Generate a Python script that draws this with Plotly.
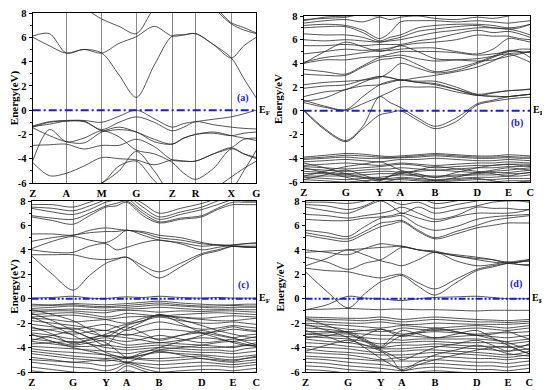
import plotly.graph_objects as go

# ---------------- data ----------------
klabels_a = ["Z", "A", "M", "G", "Z", "R", "X", "G"]
kpos_a = [0, 102, 210, 315, 424, 495, 604, 680]
klabels_b = ["Z", "G", "Y", "A", "B", "D", "E", "C"]
kpos_b = [0, 128, 230, 293, 398, 526, 620, 686]
klabels_c = ["Z", "G", "Y", "A", "B", "D", "E", "C"]
kpos_c = [0, 126, 226, 289, 388, 518, 613, 684]
klabels_d = ["Z", "G", "Y", "A", "B", "D", "E", "C"]
kpos_d = [0, 130, 230, 294, 395, 523, 618, 683]

yticks = [-6, -4, -2, 0, 2, 4, 6, 8]

# band energies (eV) at each high-symmetry point and the midpoint between them
bands_a = [
    [6.0, 5.3, 4.7, 5.0, 4.7, 2.9, 1.05, 3.7, 6.1, 6.2, 6.3, 5.4, 4.3, 2.6, 1.0],
    [6.1, 6.3, 4.7, 5.0, 4.7, 5.5, 6.05, 6.9, 6.1, 6.2, 6.3, 5.4, 4.3, 5.3, 6.0],
    [9.0, 9.0, 9.0, 8.4, 7.5, 6.9, 6.3, 8.4, 9.5, 9.5, 9.5, 8.4, 7.1, 6.6, 6.3],
    [9.5, 9.5, 9.5, 9.5, 9.5, 9.5, 9.5, 9.5, 9.5, 9.5, 9.5, 8.6, 7.2, 6.8, 6.35],
    [-1.3, -0.95, -0.85, -0.85, -1.0, -0.5, 0.0, -0.7, -1.4, -1.1, -0.95, -0.75, -0.55, -0.3, 0.0],
    [-1.4, -1.0, -0.9, -0.95, -1.6, -1.0, -0.55, -1.0, -1.7, -1.4, -0.95, -1.2, -1.4, -1.5, -1.55],
    [-1.45, -2.1, -2.6, -2.7, -1.8, -1.4, -1.8, -2.4, -2.8, -2.3, -2.0, -1.9, -2.1, -1.9, -1.8],
    [-2.9, -2.85, -2.8, -3.2, -2.9, -2.9, -2.4, -3.0, -4.1, -4.2, -4.2, -3.6, -3.1, -2.4, -2.3],
    [-4.2, -1.6, -2.6, -2.3, -1.7, -2.2, -3.3, -3.6, -4.3, -5.2, -5.7, -4.8, -3.2, -3.6, -3.9],
    [-4.3, -5.4, -5.2, -4.6, -3.9, -4.0, -4.1, -4.5, -4.1, -4.2, -4.2, -3.6, -3.1, -3.6, -4.0],
    [-7.0, -6.5, -6.3, -6.2, -6.0, -4.6, -4.2, -5.8, -7.0, -7.0, -7.0, -6.5, -5.5, -4.8, -4.2],
    [-1.35, -1.15, -0.9, -0.9, -1.7, -1.6, -1.8, -2.6, -2.8, -2.3, -2.0, -1.8, -2.1, -2.3, -2.5],
    [-7.0, -7.0, -7.0, -6.5, -6.0, -5.0, -3.4, -5.0, -7.0, -7.0, -7.0, -7.0, -6.5, -5.0, -3.3],
]

bands_b = [
    [0.0, -1.6, -2.6, -1.5, -0.35, -0.15, 0.0, -0.8, -1.5, -0.9, 0.5, 0.8, 1.0, 1.1, 1.15],
    [0.1, -1.5, -2.5, -1.3, 1.2, 0.7, 0.3, -0.6, -1.3, -0.6, 0.6, 0.9, 1.2, 1.3, 1.4],
    [0.7, 0.3, 0.05, 0.6, 1.2, 1.6, 2.0, 2.0, 2.0, 1.6, 1.3, 1.25, 1.2, 1.3, 1.4],
    [0.9, 0.4, 0.1, 1.2, 2.2, 2.5, 2.6, 2.4, 2.3, 1.8, 1.3, 1.5, 1.7, 1.75, 1.8],
    [1.2, 1.6, 1.8, 2.4, 2.9, 2.8, 2.6, 2.5, 2.5, 2.0, 1.4, 1.55, 1.7, 1.75, 1.85],
    [0.8, 1.1, 1.8, 2.1, 2.2, 2.4, 2.6, 2.4, 2.2, 1.8, 1.35, 1.2, 1.2, 1.3, 1.4],
    [1.9, 2.1, 2.2, 2.6, 2.9, 2.8, 2.6, 2.8, 3.0, 3.3, 3.7, 4.2, 4.8, 4.9, 5.0],
    [2.2, 2.4, 2.5, 2.6, 2.8, 3.3, 4.0, 3.6, 3.2, 3.4, 4.0, 4.5, 5.0, 5.0, 4.9],
    [3.1, 3.0, 3.0, 3.7, 4.3, 4.4, 4.5, 3.9, 3.3, 3.6, 4.1, 4.6, 5.1, 5.0, 4.5],
    [3.5, 3.3, 3.1, 3.8, 4.5, 4.6, 4.7, 4.4, 4.2, 4.3, 4.4, 4.6, 4.8, 4.5, 4.1],
    [4.0, 4.3, 4.3, 4.5, 4.6, 4.8, 5.0, 5.0, 5.0, 4.9, 4.7, 4.8, 5.0, 5.2, 5.2],
    [4.1, 4.5, 4.7, 4.9, 5.1, 5.1, 5.2, 5.3, 5.3, 5.0, 4.8, 5.2, 6.1, 6.0, 5.8],
    [4.8, 5.0, 5.2, 5.1, 5.2, 5.3, 5.5, 5.7, 5.8, 6.0, 6.4, 6.3, 6.3, 6.1, 6.0],
    [4.0, 5.0, 5.8, 5.4, 5.0, 5.2, 5.5, 5.0, 4.4, 4.3, 4.2, 4.3, 4.6, 4.8, 5.0],
    [5.5, 5.5, 5.6, 5.5, 5.6, 5.6, 5.6, 5.9, 6.1, 6.5, 6.8, 6.6, 6.7, 6.5, 6.2],
    [6.0, 5.9, 6.0, 5.9, 5.8, 5.9, 6.0, 6.3, 6.6, 6.8, 7.0, 7.0, 6.9, 6.7, 6.4],
    [6.5, 6.4, 6.4, 6.2, 5.8, 6.0, 6.2, 6.7, 6.9, 7.1, 7.2, 7.0, 6.9, 7.0, 7.3],
    [7.0, 7.1, 7.1, 6.6, 5.9, 6.2, 6.4, 7.0, 7.2, 7.3, 7.3, 7.2, 7.0, 7.1, 7.3],
    [7.2, 7.3, 7.2, 6.8, 6.1, 6.6, 7.5, 7.6, 7.6, 7.5, 7.6, 7.5, 7.4, 7.5, 7.6],
    [7.4, 7.6, 7.7, 7.5, 7.9, 7.7, 7.9, 8.0, 7.8, 7.7, 7.9, 7.8, 8.0, 8.2, 8.3],
    [7.6, 7.9, 8.0, 8.1, 8.0, 8.2, 8.3, 8.4, 8.3, 8.2, 8.3, 8.4, 8.3, 8.4, 8.5],
    [7.7, 7.8, 7.9, 8.2, 8.4, 8.3, 8.2, 8.4, 8.5, 8.3, 8.1, 8.2, 8.4, 8.5, 8.6],
    [-3.9, -3.75, -3.6, -3.65, -3.8, -3.85, -3.8, -3.7, -3.6, -3.7, -3.8, -3.8, -3.7, -3.75, -3.8],
    [-4.0, -3.9, -3.75, -3.8, -3.9, -3.95, -3.9, -3.8, -3.7, -3.8, -3.9, -3.9, -3.85, -3.9, -3.9],
    [-4.1, -4.0, -3.9, -4.0, -4.0, -4.0, -3.95, -3.9, -3.8, -3.9, -4.0, -4.0, -3.95, -4.0, -4.0],
    [-4.3, -4.2, -4.1, -4.2, -4.3, -4.2, -4.1, -4.1, -4.0, -4.1, -4.2, -4.2, -4.1, -4.15, -4.2],
    [-4.6, -4.5, -4.4, -4.5, -4.6, -4.5, -4.4, -4.5, -4.6, -4.5, -4.4, -4.4, -4.3, -4.35, -4.4],
    [-4.7, -4.8, -4.9, -4.8, -4.7, -4.6, -4.5, -4.6, -4.8, -4.7, -4.6, -4.6, -4.5, -4.5, -4.5],
    [-4.9, -5.0, -5.1, -5.0, -4.9, -4.9, -4.8, -4.9, -5.0, -4.9, -4.8, -4.8, -4.7, -4.7, -4.6],
    [-5.1, -5.2, -5.3, -5.2, -5.1, -5.1, -5.2, -5.1, -5.0, -5.1, -5.2, -5.1, -5.0, -4.9, -4.8],
    [-5.3, -5.3, -5.4, -5.4, -5.3, -5.3, -5.3, -5.4, -5.5, -5.4, -5.3, -5.2, -5.2, -5.1, -5.0],
    [-5.5, -5.5, -5.5, -5.6, -5.6, -5.5, -5.4, -5.5, -5.6, -5.5, -5.4, -5.4, -5.3, -5.3, -5.2],
    [-5.6, -5.7, -5.8, -5.7, -5.7, -5.7, -5.6, -5.7, -5.8, -5.7, -5.6, -5.6, -5.5, -5.5, -5.4],
    [-5.8, -5.9, -6.0, -5.9, -5.8, -5.8, -5.8, -5.9, -6.0, -5.9, -5.8, -5.8, -5.7, -5.7, -5.7],
    [-6.0, -6.1, -6.2, -6.1, -6.0, -6.0, -6.0, -6.1, -6.2, -6.1, -6.0, -6.0, -5.9, -5.9, -5.9],
    [-6.2, -6.3, -6.4, -6.3, -6.2, -6.2, -6.2, -6.3, -6.4, -6.3, -6.2, -6.2, -6.1, -6.1, -6.1],
    [-4.4, -4.8, -5.3, -5.6, -5.9, -5.5, -5.1, -5.5, -5.9, -5.6, -5.2, -5.0, -4.8, -4.9, -5.0],
    [-5.5, -5.1, -4.7, -4.5, -4.3, -4.6, -5.0, -5.3, -5.6, -5.2, -4.8, -4.6, -4.5, -4.6, -4.7],
    [-5.8, -5.4, -5.0, -5.4, -5.8, -5.5, -5.3, -5.0, -4.7, -4.9, -5.1, -5.3, -5.5, -5.3, -5.2],
    [-4.8, -5.2, -5.6, -5.9, -6.1, -5.9, -5.7, -5.8, -5.9, -5.8, -5.7, -5.9, -6.1, -6.0, -5.9],
]

bands_c = [
    [3.5, 2.0, 0.7, 1.9, 2.9, 3.2, 3.4, 2.4, 1.7, 2.6, 3.6, 3.9, 4.3, 4.25, 4.2],
    [3.6, 3.6, 3.6, 3.3, 3.2, 3.3, 3.4, 2.7, 2.2, 2.9, 3.7, 4.0, 4.3, 4.25, 4.2],
    [4.0, 3.8, 3.8, 4.3, 4.5, 4.0, 4.2, 4.6, 4.8, 4.5, 4.0, 4.2, 4.4, 4.5, 4.5],
    [4.1, 4.7, 5.1, 4.8, 4.6, 5.0, 5.6, 5.2, 4.8, 4.6, 4.3, 4.4, 4.4, 4.5, 4.6],
    [4.7, 5.0, 5.2, 5.4, 5.5, 5.5, 5.6, 5.4, 5.0, 4.8, 4.5, 4.4, 4.3, 4.2, 4.2],
    [5.3, 5.3, 5.2, 5.6, 5.8, 5.7, 5.6, 5.5, 5.2, 5.0, 4.6, 4.4, 4.3, 4.3, 4.3],
    [6.7, 6.4, 6.1, 6.8, 7.5, 7.6, 7.9, 6.8, 6.2, 6.5, 6.7, 7.3, 7.7, 7.7, 7.7],
    [6.8, 6.6, 6.5, 7.0, 7.6, 7.8, 8.0, 7.0, 6.3, 6.6, 6.8, 7.4, 7.9, 7.9, 7.9],
    [7.4, 7.1, 6.9, 7.3, 7.9, 8.1, 8.2, 7.2, 6.5, 6.9, 7.3, 7.7, 8.1, 8.0, 8.0],
    [7.5, 7.4, 7.2, 7.6, 8.1, 8.3, 8.4, 7.5, 6.7, 7.1, 7.5, 8.0, 8.3, 8.2, 8.2],
    [7.7, 7.7, 7.5, 7.9, 8.3, 8.4, 8.5, 7.8, 7.0, 7.4, 7.8, 8.2, 8.5, 8.4, 8.4],
    [0.05, 0.1, 0.2, 0.05, 0.0, 0.1, 0.15, 0.1, 0.2, 0.1, 0.05, 0.1, 0.05, 0.05, 0.05],
    [-0.45, -0.5, -0.4, -0.45, -0.5, -0.45, -0.4, -0.3, -0.2, -0.35, -0.45, -0.5, -0.5, -0.45, -0.45],
    [-0.6, -0.55, -0.5, -0.6, -0.65, -0.6, -0.55, -0.45, -0.35, -0.5, -0.6, -0.6, -0.55, -0.6, -0.6],
    [-0.8, -0.7, -0.6, -0.7, -0.75, -0.7, -0.7, -0.6, -0.5, -0.6, -0.7, -0.75, -0.7, -0.7, -0.7],
    [-0.95, -0.9, -0.85, -0.9, -0.95, -0.9, -0.85, -0.8, -0.7, -0.8, -0.9, -0.9, -0.85, -0.9, -0.9],
    [-1.1, -1.0, -1.0, -1.1, -1.15, -1.0, -0.95, -1.0, -1.1, -1.0, -1.05, -1.0, -1.0, -1.05, -1.1],
    [-1.3, -1.2, -1.15, -1.3, -1.5, -1.4, -1.2, -1.3, -1.4, -1.3, -1.2, -1.15, -1.2, -1.25, -1.3],
    [-1.5, -1.4, -1.35, -1.5, -1.7, -1.9, -2.0, -1.6, -1.4, -1.5, -1.6, -1.5, -1.4, -1.45, -1.5],
    [-1.6, -1.7, -1.9, -1.8, -1.7, -1.6, -1.5, -1.45, -1.4, -1.55, -1.7, -1.8, -1.8, -1.7, -1.6],
    [-1.8, -2.0, -2.2, -2.4, -2.6, -2.3, -2.1, -1.8, -1.5, -1.8, -2.0, -2.0, -1.9, -2.0, -2.1],
    [-2.1, -2.3, -2.5, -2.3, -2.1, -2.3, -2.6, -2.2, -1.9, -2.2, -2.5, -2.4, -2.2, -2.3, -2.4],
    [-2.4, -2.6, -2.9, -2.7, -2.6, -2.8, -3.0, -2.7, -2.5, -2.6, -2.8, -2.7, -2.5, -2.6, -2.7],
    [-2.6, -2.5, -2.4, -2.8, -3.1, -3.0, -2.9, -3.1, -3.3, -3.0, -2.8, -3.0, -3.2, -3.0, -2.9],
    [-2.8, -3.0, -3.3, -3.2, -3.0, -3.1, -3.2, -3.4, -3.6, -3.4, -3.2, -3.3, -3.5, -3.3, -3.1],
    [-3.0, -3.2, -3.6, -3.4, -3.2, -3.4, -3.5, -3.3, -3.0, -3.3, -3.6, -3.5, -3.3, -3.4, -3.4],
    [-3.3, -3.5, -3.8, -3.6, -3.4, -3.6, -3.8, -3.7, -3.6, -3.7, -3.8, -3.9, -4.0, -3.8, -3.6],
    [-3.5, -3.7, -3.9, -3.9, -3.8, -3.9, -4.0, -3.9, -3.8, -3.9, -4.0, -4.0, -3.9, -3.85, -3.8],
    [-3.7, -3.6, -3.5, -3.7, -4.0, -4.1, -4.2, -4.1, -4.0, -4.1, -4.2, -4.2, -4.3, -4.1, -4.0],
    [-3.9, -4.0, -4.1, -4.2, -4.3, -4.4, -4.5, -4.3, -4.2, -4.3, -4.4, -4.4, -4.5, -4.4, -4.3],
    [-4.1, -4.3, -4.4, -4.5, -4.6, -4.7, -4.8, -4.6, -4.4, -4.5, -4.6, -4.7, -4.8, -4.7, -4.6],
    [-4.3, -4.5, -4.7, -4.8, -4.9, -4.85, -4.8, -4.9, -4.9, -4.8, -4.7, -4.9, -5.0, -4.9, -4.8],
    [-4.5, -4.7, -4.9, -5.0, -5.1, -5.0, -4.9, -5.0, -5.1, -5.0, -4.9, -5.1, -5.2, -5.1, -5.0],
    [-4.8, -5.0, -5.2, -5.1, -5.0, -5.1, -5.2, -5.3, -5.4, -5.3, -5.2, -5.3, -5.4, -5.3, -5.2],
    [-5.0, -5.1, -5.2, -5.3, -5.5, -5.4, -5.2, -5.5, -5.7, -5.6, -5.5, -5.5, -5.6, -5.5, -5.4],
    [-5.2, -5.4, -5.6, -5.7, -5.9, -5.7, -5.3, -5.7, -6.0, -5.9, -5.8, -5.8, -5.9, -5.8, -5.7],
    [-5.6, -5.8, -6.0, -6.1, -6.2, -6.0, -5.5, -5.9, -6.2, -6.1, -6.1, -6.1, -6.2, -6.1, -6.0],
    [-5.9, -6.1, -6.3, -6.4, -6.5, -6.2, -5.9, -6.2, -6.5, -6.4, -6.3, -6.4, -6.5, -6.4, -6.3],
    [-1.2, -1.8, -2.6, -3.2, -3.8, -3.0, -2.5, -1.9, -1.3, -1.7, -2.2, -2.6, -2.9, -3.1, -3.2],
    [-2.3, -2.9, -3.7, -3.3, -2.9, -2.6, -2.3, -2.8, -3.4, -3.0, -2.6, -2.9, -3.2, -3.5, -3.8],
    [-0.9, -1.3, -1.8, -2.5, -3.1, -2.7, -2.2, -1.8, -1.3, -2.0, -2.8, -3.2, -3.6, -3.8, -3.9],
    [-3.4, -3.0, -2.7, -3.2, -3.6, -4.2, -4.8, -4.4, -4.0, -3.5, -3.0, -2.6, -2.3, -2.5, -2.6],
    [-2.9, -3.5, -4.0, -4.3, -4.6, -4.9, -5.2, -4.7, -4.2, -4.0, -3.8, -3.6, -3.5, -3.7, -3.9],
    [-1.5, -2.2, -3.0, -3.7, -4.4, -4.7, -4.9, -4.6, -4.3, -4.6, -4.9, -5.0, -5.1, -4.9, -4.7],
]

bands_d = [
    [2.2, 0.6, -0.75, 0.4, 1.4, 1.7, 1.9, 1.0, 0.3, 1.3, 2.3, 2.6, 2.9, 3.0, 3.1],
    [2.5, 2.3, 2.2, 1.9, 1.7, 1.9, 2.0, 1.3, 0.8, 1.6, 2.4, 2.7, 2.9, 3.0, 3.1],
    [2.7, 3.3, 4.0, 3.6, 3.1, 2.9, 2.7, 3.2, 3.8, 3.1, 2.7, 2.8, 3.0, 2.8, 2.7],
    [3.4, 3.0, 2.4, 2.9, 3.2, 3.7, 4.2, 4.0, 3.8, 3.5, 3.2, 3.0, 2.9, 2.8, 2.8],
    [3.8, 3.9, 4.0, 4.1, 4.2, 4.25, 4.3, 4.0, 3.9, 3.5, 3.3, 3.2, 3.0, 3.1, 3.2],
    [4.0, 3.8, 3.6, 4.1, 4.5, 4.4, 4.3, 4.0, 3.8, 3.6, 3.4, 3.2, 2.9, 3.0, 3.2],
    [5.2, 4.9, 4.7, 5.3, 5.9, 6.1, 6.3, 5.5, 4.9, 5.3, 5.8, 6.0, 6.2, 6.2, 6.2],
    [5.4, 5.1, 4.9, 5.5, 6.2, 6.3, 6.4, 5.6, 5.0, 5.5, 6.0, 6.4, 6.6, 6.7, 6.8],
    [5.6, 5.4, 5.1, 5.9, 6.6, 6.7, 6.8, 6.0, 5.6, 5.9, 6.5, 6.7, 6.8, 6.85, 6.9],
    [6.5, 6.4, 6.4, 6.6, 6.7, 6.8, 7.0, 6.6, 6.3, 6.7, 7.0, 7.0, 7.0, 7.1, 7.3],
    [6.9, 6.8, 6.6, 6.8, 7.0, 7.2, 7.5, 7.0, 6.5, 6.8, 7.5, 7.4, 7.4, 7.3, 7.3],
    [7.5, 7.2, 7.0, 7.5, 8.0, 7.6, 7.0, 7.5, 7.0, 7.3, 7.6, 7.9, 8.0, 8.0, 7.9],
    [7.7, 7.6, 7.3, 7.6, 8.2, 8.0, 7.7, 7.9, 7.4, 7.7, 8.0, 8.2, 8.2, 8.1, 8.0],
    [7.9, 7.9, 7.8, 8.0, 8.4, 8.3, 8.2, 8.3, 7.8, 8.0, 8.3, 8.4, 8.4, 8.3, 8.3],
    [-0.9, -0.5, 0.2, 0.05, 0.0, -0.1, -0.15, 0.0, 0.1, 0.15, 0.2, 0.1, 0.0, 0.0, 0.0],
    [-0.9, -0.85, -0.8, -0.85, -0.9, -0.85, -0.85, -0.9, -0.9, -0.95, -1.0, -0.95, -0.95, -0.95, -0.95],
    [-1.5, -1.55, -1.6, -1.6, -1.5, -1.6, -1.7, -1.6, -1.5, -1.6, -1.7, -1.75, -1.8, -1.75, -1.7],
    [-1.65, -1.7, -1.75, -1.8, -1.7, -1.8, -1.9, -1.8, -1.7, -1.8, -1.9, -1.9, -1.95, -1.9, -1.85],
    [-1.8, -1.9, -2.0, -2.0, -1.9, -2.0, -2.1, -2.1, -2.0, -2.05, -2.1, -2.1, -2.1, -2.05, -2.0],
    [-2.0, -2.1, -2.2, -2.3, -2.4, -2.3, -2.2, -2.3, -2.4, -2.3, -2.2, -2.3, -2.4, -2.3, -2.2],
    [-2.2, -2.3, -2.5, -2.6, -2.7, -2.6, -2.4, -2.5, -2.6, -2.5, -2.4, -2.5, -2.6, -2.5, -2.4],
    [-2.4, -2.5, -2.7, -2.6, -2.5, -2.7, -2.9, -2.8, -2.7, -2.8, -2.9, -2.8, -2.8, -2.75, -2.7],
    [-2.7, -2.7, -2.8, -2.9, -3.0, -3.0, -3.0, -3.1, -3.2, -3.1, -3.0, -3.1, -3.2, -3.1, -3.0],
    [-2.9, -3.0, -3.1, -3.2, -3.3, -3.3, -3.4, -3.3, -3.3, -3.3, -3.3, -3.4, -3.5, -3.4, -3.3],
    [-3.1, -3.2, -3.3, -3.5, -3.7, -3.6, -3.6, -3.5, -3.5, -3.6, -3.6, -3.6, -3.7, -3.6, -3.5],
    [-3.3, -3.5, -3.6, -3.8, -4.0, -3.9, -3.8, -3.8, -3.7, -3.8, -3.9, -3.9, -4.0, -3.9, -3.8],
    [-3.6, -3.7, -3.9, -4.0, -4.1, -4.1, -4.1, -4.0, -3.9, -4.0, -4.1, -4.2, -4.3, -4.2, -4.1],
    [-3.9, -4.0, -4.1, -4.3, -4.4, -4.3, -4.3, -4.2, -4.2, -4.3, -4.4, -4.5, -4.6, -4.5, -4.3],
    [-4.1, -4.3, -4.4, -4.5, -4.6, -4.6, -4.6, -4.5, -4.4, -4.5, -4.6, -4.7, -4.8, -4.7, -4.6],
    [-4.4, -4.5, -4.6, -4.8, -5.0, -4.9, -4.8, -4.8, -4.7, -4.8, -4.9, -4.9, -5.0, -4.9, -4.9],
    [-4.7, -4.8, -4.9, -5.0, -5.1, -5.1, -5.1, -5.1, -5.0, -5.1, -5.2, -5.2, -5.3, -5.2, -5.1],
    [-4.9, -5.0, -5.2, -5.3, -5.4, -5.5, -5.6, -5.4, -5.3, -5.4, -5.5, -5.5, -5.6, -5.5, -5.4],
    [-5.2, -5.3, -5.5, -5.6, -5.7, -5.8, -5.9, -5.7, -5.6, -5.7, -5.8, -5.8, -5.9, -5.8, -5.7],
    [-5.5, -5.6, -5.8, -5.9, -6.0, -6.1, -6.1, -6.0, -5.9, -6.0, -6.1, -6.1, -6.2, -6.1, -6.0],
    [-5.8, -5.9, -6.1, -6.2, -6.3, -6.4, -6.4, -6.3, -6.2, -6.3, -6.4, -6.4, -6.5, -6.4, -6.3],
    [-1.6, -2.2, -2.8, -3.4, -4.0, -3.5, -3.0, -2.7, -2.4, -2.7, -3.0, -3.3, -3.6, -3.9, -4.2],
    [-2.9, -2.8, -2.7, -3.3, -3.9, -3.2, -2.6, -2.9, -3.2, -2.9, -2.6, -3.2, -3.8, -4.2, -4.5],
    [-3.2, -3.0, -2.9, -3.5, -4.2, -4.6, -5.0, -4.5, -4.0, -3.7, -3.4, -3.8, -4.3, -4.0, -3.7],
    [-2.1, -2.6, -3.2, -4.0, -4.9, -5.4, -5.8, -5.2, -4.6, -4.2, -3.8, -4.1, -4.5, -4.6, -4.7],
    [-4.3, -3.8, -3.4, -3.8, -4.3, -4.9, -5.9, -5.4, -5.0, -4.6, -4.2, -4.0, -3.9, -4.2, -4.5],
    [-2.6, -3.1, -3.6, -3.0, -2.5, -2.8, -3.1, -2.8, -2.5, -2.7, -3.0, -2.9, -2.7, -3.0, -3.3],
]

panel_tags = ["(a)", "(b)", "(c)", "(d)"]
ytitles = ["Energy(eV)", "Energy/eV", "Energy(eV)", "Energy/eV"]
tag_y = [1.0, -1.0, 1.1, 1.2]

# ---------------- layout geometry ----------------
# The page body adds an 8px margin, so the figure is drawn 8px smaller and
# every pixel box is shifted by that amount.
OFF = 8
W, H = 550 - OFF, 390 - OFF
boxes_ref = [  # left, right, top, bottom in reference-image pixels
    (29, 256, 13, 183),
    (304, 534, 16, 182),
    (28, 256, 201, 372),
    (306, 533, 201, 372),
]
fermi_dash = ["8px,3px,2px,3px", "8px,3px,2px,3px",
              "7px,2px,2px,2px,2px,2px", "7px,2px,2px,2px,2px,2px"]

panels = [
    (klabels_a, kpos_a, bands_a),
    (klabels_b, kpos_b, bands_b),
    (klabels_c, kpos_c, bands_c),
    (klabels_d, kpos_d, bands_d),
]

FONT = "Liberation Serif"
fig = go.Figure()
layout = {}
annotations = []

for i, (labels, kpos, bands) in enumerate(panels):
    n = i + 1
    xa = "x" if n == 1 else f"x{n}"
    ya = "y" if n == 1 else f"y{n}"
    ksamp = []
    for j in range(len(kpos) - 1):
        ksamp.append(kpos[j])
        ksamp.append((kpos[j] + kpos[j + 1]) / 2)
    ksamp.append(kpos[-1])
    xs, ys = [], []
    for b in bands:
        xs += ksamp + [None]
        ys += b + [None]
    fig.add_trace(go.Scatter(
        x=xs, y=ys, mode="lines", xaxis=xa, yaxis=ya,
        line=dict(color="#2a2a2a", width=0.8, shape="spline", smoothing=0.9),
        hoverinfo="skip", showlegend=False))
    fig.add_trace(go.Scatter(
        x=[kpos[0], kpos[-1]], y=[0, 0], mode="lines", xaxis=xa, yaxis=ya,
        line=dict(color="rgb(25,25,235)", width=2, dash=fermi_dash[i]),
        hoverinfo="skip", showlegend=False))

    l, r, t, btm = [v - OFF for v in boxes_ref[i]]
    layout[("xaxis" if n == 1 else f"xaxis{n}")] = dict(
        domain=[l / W, r / W], anchor=ya, range=[kpos[0], kpos[-1]],
        tickmode="array", tickvals=kpos, ticktext=labels,
        showgrid=True, gridcolor="#8a8a8a", gridwidth=1,
        showline=True, linecolor="black", linewidth=1, mirror=True,
        ticks="", zeroline=False, ticklabeloverflow="allow",
        tickfont=dict(family=FONT, size=10.5, color="black", weight="bold"),
    )
    layout[("yaxis" if n == 1 else f"yaxis{n}")] = dict(
        domain=[1 - btm / H, 1 - t / H], anchor=xa, range=[-6, 8],
        tickmode="array", tickvals=yticks, ticktext=[str(v) for v in yticks],
        showgrid=False, zeroline=False, ticklabeloverflow="allow",
        showline=True, linecolor="black", linewidth=1, mirror=True,
        ticks="outside", ticklen=3, tickcolor="black",
        minor=dict(dtick=1, ticks="outside", ticklen=2, tickcolor="black"),
        tickfont=dict(family=FONT, size=10.5, color="black", weight="bold"),
        title=dict(text=ytitles[i], standoff=3,
                   font=dict(family=FONT, size=11, color="black", weight="bold")),
        automargin=False,
    )
    width_px = r - l
    annotations.append(dict(
        xref=f"{xa} domain", yref=ya, x=1 + 2.0 / width_px, y=0,
        xanchor="left", yanchor="middle", borderpad=0,
        text="E<sub>F</sub>", showarrow=False,
        font=dict(family=FONT, size=10, color="black", weight="bold")))
    annotations.append(dict(
        xref=f"{xa} domain", yref=ya, x=0.975, y=tag_y[i], xanchor="right", yanchor="middle",
        text=panel_tags[i], showarrow=False,
        font=dict(family=FONT, size=10, color="rgb(25,25,235)", weight="bold")))

fig.update_layout(
    width=W, height=H, margin=dict(l=0, r=0, t=0, b=0),
    paper_bgcolor="white", plot_bgcolor="white",
    annotations=annotations, showlegend=False, **layout)

fig.write_html("out.html")
